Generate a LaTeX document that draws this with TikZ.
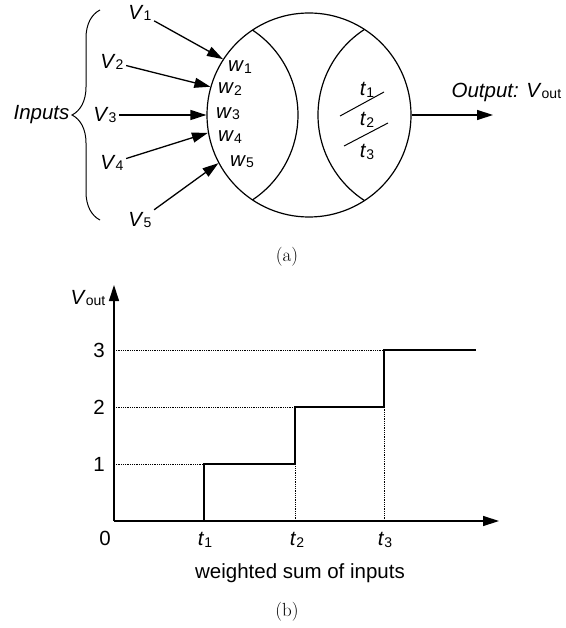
\documentclass[tikz,border=0pt]{standalone}
\usepackage{fontspec}
\setsansfont{Liberation Sans}
\usetikzlibrary{arrows.meta,decorations.pathreplacing}

\newcommand{\indice}[1]{\raisebox{-0.12ex}{\fontsize{14}{14}\selectfont\upshape #1}}

\tikzset{
  lbl/.style={font=\sffamily\fontsize{20.5}{24}\selectfont, inner sep=2pt},
  flecha/.style={-{Triangle[length=16pt,width=10pt]}, line width=1.3pt},
  punteada/.style={densely dotted, line width=0.8pt},
}

\begin{document}
\begin{tikzpicture}[x=1pt,y=1pt,line width=1.2pt]
    \useasboundingbox (0,0) rectangle (565,-628);

    % Neurona
    \node[circle, draw, minimum size=204pt, inner sep=0pt] (neurona) at (309,-115) {};
    \draw (252.5,-30.1) arc[start angle=56.36, end angle=-56.36, radius=102];
    \draw (364.5,-29.4) arc[start angle=122.96, end angle=237.04, radius=102];

    % Entradas y pesos
    \foreach \i/\x/\y/\ang in {1/140/13/147.7, 2/112/62/164, 3/105/115/180, 4/112/163/190.6, 5/140/220/208.3} {
        \node[lbl] (v\i) at (\x,-\y) {\textit{V}\indice{\i}};
        \draw[flecha] (v\i) -- (neurona.\ang);
    }
    \foreach \i/\x/\y in {1/240/67, 2/230/89, 3/228/114, 4/230/137, 5/242/162}
        \node[lbl] (w\i) at (\x,-\y) {\textit{w}\indice{\i}};

    % Llave
    \draw[decorate, decoration={brace, amplitude=28pt}, line width=1pt] (100,-220) -- (100,-10);
    \node[lbl, anchor=east] (inputs) at (72,-115) {\textit{Inputs}};

    % Umbrales
    \foreach \i/\y in {1/90, 2/120, 3/152}
        \node[lbl] (t\i) at (367,-\y) {\textit{t}\indice{\i}};
    \draw[line width=1pt] (340,-116) -- (384,-92);
    \draw[line width=1pt] (344,-146) -- (388,-123);

    % Salida
    \coordinate (salida) at (493,-115);
    \draw[flecha] (neurona.east) -- (salida);
    \node[lbl, anchor=west] (output) at (449,-92) {\textit{Output: V}\indice{out}};

    \node[font=\fontsize{19}{22}\selectfont] (capa) at (287,-257) {(a)};

    % Grafica escalonada
    \coordinate (origen) at (114,-521);
    \coordinate (xfin) at (499,-521);
    \coordinate (yfin) at (114,-285);
    \draw[flecha] (origen) -- (xfin);
    \draw[flecha] (origen) -- (yfin);

    \draw[punteada] (origen |- 0,-464) -- (204,-464);
    \draw[punteada] (origen |- 0,-407) -- (295,-407);
    \draw[punteada] (origen |- 0,-350) -- (384,-350);
    \draw[punteada] (295,-521) -- (295,-464);
    \draw[punteada] (384,-521) -- (384,-407);

    \draw[line width=1.4pt] (origen) -- (204,-521) -- (204,-464) -- (295,-464)
        -- (295,-407) -- (384,-407) -- (384,-350) -- (476,-350);

    % Etiquetas
    \foreach \n/\y in {1/464, 2/407, 3/350}
        \node[lbl] (n\n) at (99,-\y) {\n};
    \node[lbl] (cero) at (105,-538) {0};
    \foreach \i/\x in {1/205, 2/297, 3/385}
        \node[lbl] (x\i) at (\x,-540) {\textit{t}\indice{\i}};
    \node[lbl] (vout) at (88,-298) {\textit{V}\indice{out}};
    \node[lbl] (suma) at (300,-573) {weighted sum of inputs};

    \node[font=\fontsize{19}{22}\selectfont] (capb) at (287,-612) {(b)};
\end{tikzpicture}
\end{document}
